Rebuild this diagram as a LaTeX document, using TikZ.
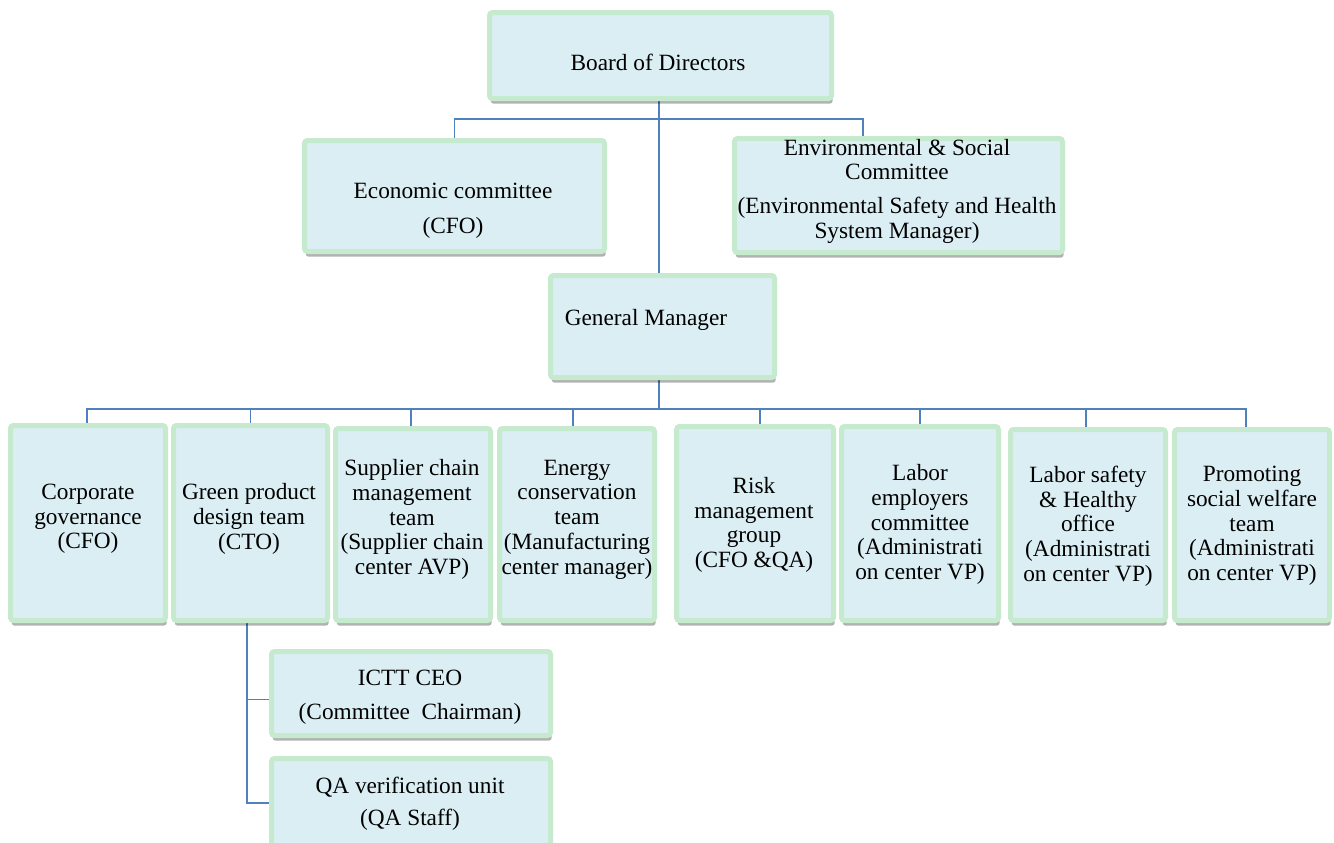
\documentclass[tikz,border=0pt]{standalone}
\usepackage{fontspec}
\setmainfont{Liberation Serif}
\usetikzlibrary{shadows,backgrounds}
\definecolor{boxfill}{RGB}{219,238,244}
\definecolor{boxedge}{RGB}{198,234,205}
\definecolor{linkblue}{RGB}{79,129,189}
\tikzset{
  orgbox/.style={draw=boxedge, fill=boxfill, line width=2.5pt, rounded corners=1.5pt,
    inner sep=0pt,
    drop shadow={shadow xshift=0.6pt, shadow yshift=-2.6pt, fill=black, opacity=0.3}},
  lbl/.style={align=center, inner sep=0pt, text=black,
    font=\fontsize{11.65pt}{12.35pt}\selectfont},
  link/.style={draw=linkblue, line width=0.75pt}
}
\begin{document}
\begin{tikzpicture}[x=0.5pt, y=-0.5pt]
\useasboundingbox (0,0) rectangle (1334,842);

% --- boxes ---
\node[orgbox, minimum width=171pt, minimum height=43pt]   (board) at (660.5,55.5) {};
\node[orgbox, minimum width=150pt, minimum height=55.5pt] (econ)  at (454.5,196) {};
\node[orgbox, minimum width=164pt, minimum height=57pt]   (env)   at (898.5,195.5) {};
\node[orgbox, minimum width=112pt, minimum height=51pt]   (gm)    at (662.5,326.5) {};

\node[orgbox, minimum width=77.5pt, minimum height=97.5pt] (b1) at (88,523) {};
\node[orgbox, minimum width=77pt,   minimum height=97.5pt] (b2) at (250.5,523) {};
\node[orgbox, minimum width=77.5pt, minimum height=96pt]   (b3) at (413,524.5) {};
\node[orgbox, minimum width=77.5pt, minimum height=96pt]   (b4) at (577,524.5) {};
\node[orgbox, minimum width=78.5pt, minimum height=97pt]   (b5) at (755,523.5) {};
\node[orgbox, minimum width=78.5pt, minimum height=97pt]   (b6) at (920,523.5) {};
\node[orgbox, minimum width=77.5pt, minimum height=95.5pt] (b7) at (1088,525) {};
\node[orgbox, minimum width=77.5pt, minimum height=95.5pt] (b8) at (1252,525) {};

\node[orgbox, minimum width=139.5pt, minimum height=42pt]   (ictt) at (411,693.5) {};
\node[orgbox, minimum width=139.5pt, minimum height=44.5pt] (qa)   at (411,803) {};

% --- labels ---
\node[lbl] (t-board) at (658,62) {Board of Directors};
\node[lbl] (t-econ)  at (453,211) {Economic committee\\[5pt](CFO)};
\node[lbl] (t-env)   at (897,191) {Environmental \& Social\\Committee\\[4.5pt](Environmental Safety and Health\\System Manager)};
\node[lbl] (t-gm)    at (646,320) {General Manager};

\node[lbl] (t-b1) at (88,519)    {Corporate\\governance\\(CFO)};
\node[lbl] (t-b2) at (249,519)   {Green product\\design team\\(CTO)};
\node[lbl] (t-b3) at (412,519.5) {Supplier chain\\management\\team\\(Supplier chain\\center AVP)};
\node[lbl] (t-b4) at (577,519.5) {Energy\\conservation\\team\\(Manufacturing\\center manager)};
\node[lbl] (t-b5) at (754,525)   {Risk\\management\\group\\(CFO \&QA)};
\node[lbl] (t-b6) at (920,524.5) {Labor\\employers\\committee\\(Administrati\\on center VP)};
\node[lbl] (t-b7) at (1088,526)  {Labor safety\\\& Healthy\\office\\(Administrati\\on center VP)};
\node[lbl] (t-b8) at (1252,526)  {Promoting\\social welfare\\team\\(Administrati\\on center VP)};

\node[lbl] (t-ictt) at (410,697) {ICTT CEO\\[4.5pt](Committee\ \ Chairman)};
\node[lbl] (t-qa)   at (410,804) {QA verification unit\\[3.5pt](QA Staff)};

% --- connectors ---
\begin{scope}[on background layer]
  \coordinate (topbus) at (659,119);
  \coordinate (bus) at (659,409);
  % board to general manager, and the two committees
  \draw[link] ([xshift=-0.75pt]board.south) -- ([xshift=-0.75pt]board.south |- gm.north);
  \draw[link] (econ.north) -- (econ.north |- topbus) -| ([xshift=-17.75pt]env.north);
  % general manager to the eight teams
  \draw[link] ([xshift=-1.75pt]gm.south) -- ([xshift=-1.75pt]gm.south |- bus);
  \draw[link] ([xshift=-0.5pt]b1.north) |- (bus);
  \draw[link] (b2.north) |- (bus);
  \draw[link] ([xshift=-1pt]b3.north) |- (bus);
  \draw[link] ([xshift=-2pt]b4.north) |- (bus);
  \draw[link] ([xshift=2.5pt]b5.north) |- (bus);
  \draw[link] (b6.north) |- (bus);
  \draw[link] ([xshift=-1pt]b7.north) |- (bus);
  \draw[link] ([xshift=-3pt]b8.north) |- (bus);
  % green product design team members
  \draw[link] ([xshift=-1.75pt]b2.south) |- ([yshift=-3pt]ictt.west);
  \draw[link] ([xshift=-1.75pt]b2.south) |- (qa.west);
\end{scope}
\end{tikzpicture}
\end{document}
